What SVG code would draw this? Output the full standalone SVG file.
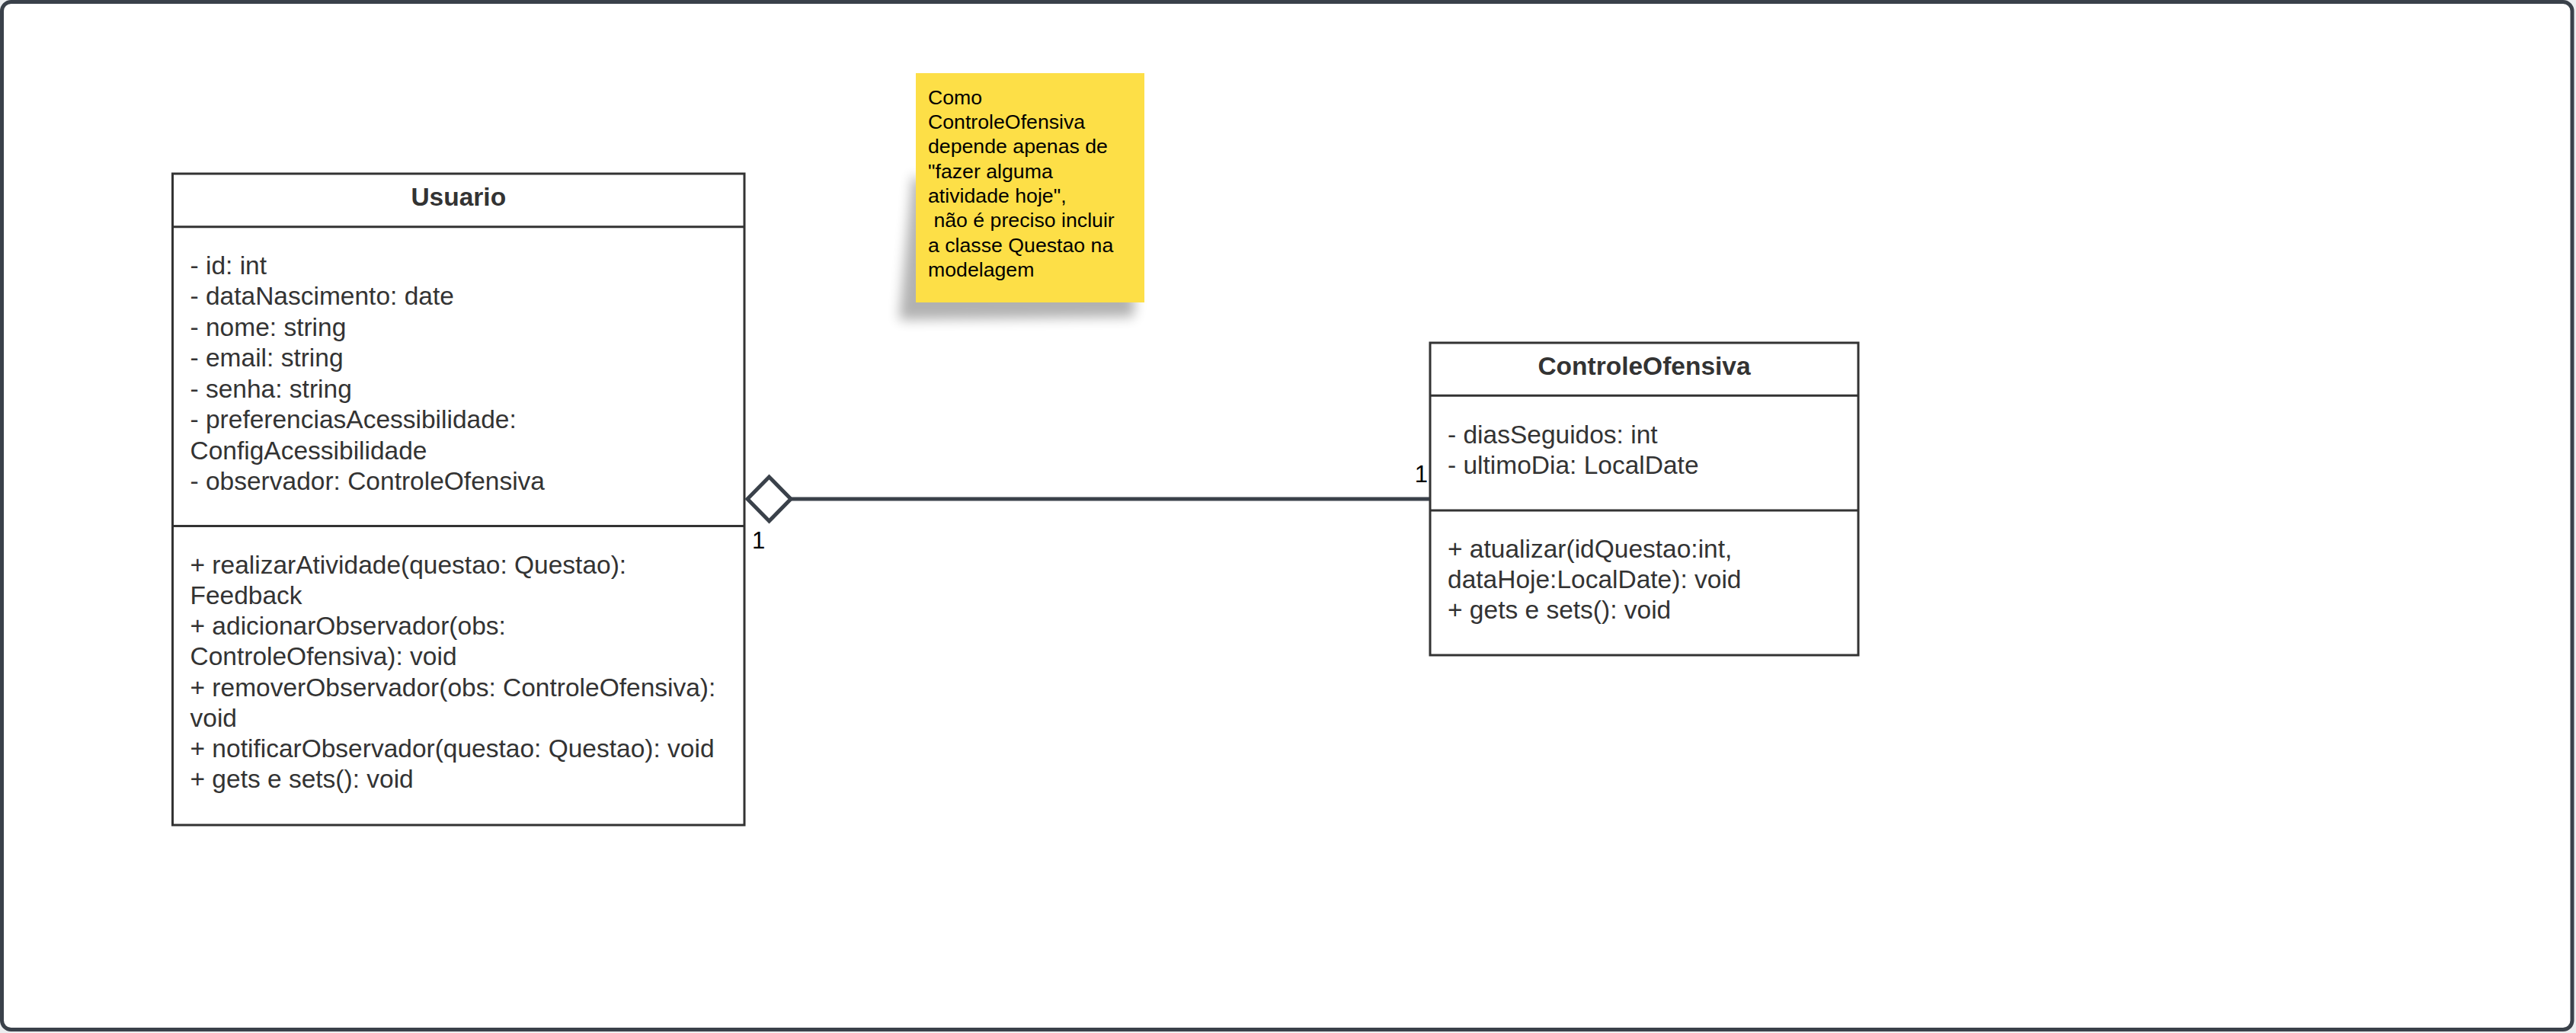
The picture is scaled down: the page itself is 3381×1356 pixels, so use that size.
<svg xmlns="http://www.w3.org/2000/svg" width="3381" height="1356" viewBox="0 0 3381 1356">
<style>
.box{fill:#ffffff;stroke:#333333;stroke-width:3}
.sep{stroke:#333333;stroke-width:3}
.title{font-family:"Liberation Sans",Arial,sans-serif;font-size:33.5px;font-weight:bold;fill:#333333;text-anchor:middle}
.txt{font-family:"Liberation Sans",Arial,sans-serif;font-size:33.5px;fill:#333333}
.note{font-family:"Liberation Sans",Arial,sans-serif;font-size:26.7px;fill:#000000}
.mult{font-family:"Liberation Sans",Arial,sans-serif;font-size:31px;fill:#000000}
.conn{stroke:#3a414a;stroke-width:5;fill:none}
</style>
<defs>
<filter id="blur" x="-20%" y="-20%" width="140%" height="140%"><feGaussianBlur stdDeviation="8"/></filter>
</defs>
<rect x="0" y="0" width="3381" height="1356" fill="#eceef0"/>
<rect id="frame" x="2.5" y="2.5" width="3373.5" height="1349" rx="12" ry="12" fill="#ffffff" stroke="#3a414a" stroke-width="5"/>

<g id="note">
<polygon points="1198,230 1490,390 1488,416 1180,420" fill="#000000" opacity="0.3" filter="url(#blur)"/>
<rect x="1202" y="96" width="300" height="301" fill="#fddf47"/>
<text class="note" xml:space="preserve"><tspan x="1218" y="136.7">Como</tspan><tspan x="1218" y="169">ControleOfensiva</tspan><tspan x="1218" y="201.3">depende apenas de</tspan><tspan x="1218" y="233.6">"fazer alguma</tspan><tspan x="1218" y="265.9">atividade hoje",</tspan><tspan x="1218" y="298.2"> não é preciso incluir</tspan><tspan x="1218" y="330.5">a classe Questao na</tspan><tspan x="1218" y="362.8">modelagem</tspan></text>
</g>

<g id="usuario">
<rect class="box" x="226.5" y="228" width="750.5" height="855"/>
<line class="sep" x1="226.5" y1="297.7" x2="977" y2="297.7"/>
<line class="sep" x1="226.5" y1="690.5" x2="977" y2="690.5"/>
<text class="title" x="601.75" y="270">Usuario</text>
<text class="txt"><tspan x="249.5" y="359.5">- id: int</tspan><tspan x="249.5" y="400">- dataNascimento: date</tspan><tspan x="249.5" y="440.6">- nome: string</tspan><tspan x="249.5" y="481.1">- email: string</tspan><tspan x="249.5" y="521.7">- senha: string</tspan><tspan x="249.5" y="562.2">- preferenciasAcessibilidade:</tspan><tspan x="249.5" y="602.8">ConfigAcessibilidade</tspan><tspan x="249.5" y="643.3">- observador: ControleOfensiva</tspan></text>
<text class="txt"><tspan x="249.5" y="752.7">+ realizarAtividade(questao: Questao):</tspan><tspan x="249.5" y="792.9">Feedback</tspan><tspan x="249.5" y="833.1">+ adicionarObservador(obs:</tspan><tspan x="249.5" y="873.3">ControleOfensiva): void</tspan><tspan x="249.5" y="913.5">+ removerObservador(obs: ControleOfensiva):</tspan><tspan x="249.5" y="953.7">void</tspan><tspan x="249.5" y="993.9">+ notificarObservador(questao: Questao): void</tspan><tspan x="249.5" y="1034.1">+ gets e sets(): void</tspan></text>
</g>

<g id="controleOfensiva">
<rect class="box" x="1877" y="450" width="562" height="410"/>
<line class="sep" x1="1877" y1="519.3" x2="2439" y2="519.3"/>
<line class="sep" x1="1877" y1="670" x2="2439" y2="670"/>
<text class="title" x="2158" y="491.7">ControleOfensiva</text>
<text class="txt"><tspan x="1900" y="581.7">- diasSeguidos: int</tspan><tspan x="1900" y="621.7">- ultimoDia: LocalDate</tspan></text>
<text class="txt"><tspan x="1900" y="731.7">+ atualizar(idQuestao:int,</tspan><tspan x="1900" y="771.7">dataHoje:LocalDate): void</tspan><tspan x="1900" y="811.7">+ gets e sets(): void</tspan></text>
</g>

<g id="connectors">
<line class="conn" x1="1038" y1="655" x2="1876" y2="655"/>
<polygon class="conn" points="981,655 1009.5,626 1038,655 1009.5,684" style="fill:#ffffff"/>
<text class="mult" x="987" y="720">1</text>
<text class="mult" x="1874" y="633" text-anchor="end">1</text>
</g>
</svg>
